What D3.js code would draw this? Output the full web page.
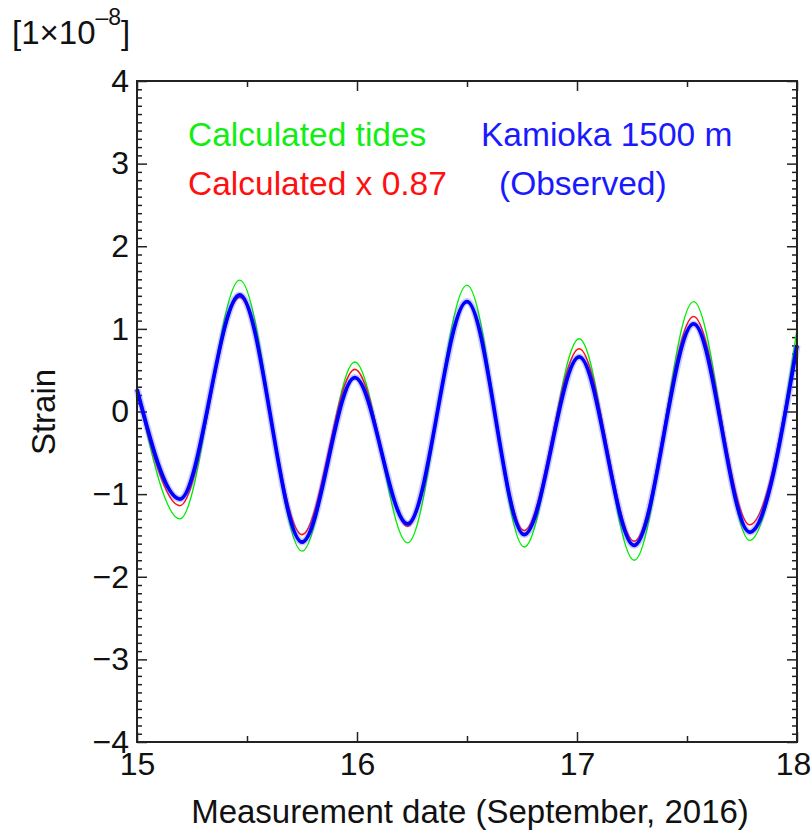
<!DOCTYPE html>
<html>
<head>
<meta charset="utf-8">
<script src="https://cdn.jsdelivr.net/npm/d3@7"></script>
<style>
  body { margin: 0; background: #fff; }
  text { font-family: "Liberation Sans", Arial, sans-serif; }
</style>
</head>
<body>
<svg id="chart" width="811" height="833"></svg>
<script>
// time of each turning point of the tide (day of September 2016)
var days  = [15.0, 15.195, 15.467, 15.75, 15.99, 16.23, 16.5, 16.76, 17.01, 17.26, 17.53, 17.785, 18.0];
// strain, units of 1e-8
var calcTides = [0.27, -1.30, 1.59, -1.69, 0.60, -1.59, 1.53, -1.64, 0.88, -1.80, 1.33, -1.56, 0.99];
var calcScaled = [0.23, -1.14, 1.38, -1.49, 0.51, -1.39, 1.33, -1.44, 0.76, -1.57, 1.15, -1.37, 0.85];
var observed = [0.27, -1.06, 1.41, -1.58, 0.41, -1.36, 1.33, -1.49, 0.66, -1.62, 1.06, -1.46, 0.80];

var xTicks = [15, 15.5, 16, 16.5, 17, 17.5, 18];
var yTicks = [-4, -3, -2, -1, 0, 1, 2, 3, 4];

var svg = d3.select("#chart"),
    margin = {top: 81, right: 14, bottom: 91, left: 137},
    width = 811 - margin.left - margin.right,
    height = 833 - margin.top - margin.bottom;

var x = d3.scaleLinear().domain([15, 18]).range([0, width]);
var y = d3.scaleLinear().domain([-4, 4]).range([height, 0]);

var g = svg.append("g").attr("transform", "translate(" + margin.left + "," + margin.top + ")");

var minorY = d3.range(-40, 41).map(function(i){ return i / 10; }).filter(function(v){ return Math.abs(v - Math.round(v)) > 1e-6; });
var halfX = xTicks.filter(function(v){ return v % 1 !== 0; });
var intX = xTicks.filter(function(v){ return v % 1 === 0; });

var tickColor = "#222";
function styleAxis(sel){
  sel.select(".domain").remove();
  sel.selectAll("line").attr("stroke", tickColor).attr("stroke-width", 1.5);
  sel.selectAll("text").attr("fill", "#111").style("font-size", "32px");
}

// left / right minor + major ticks (all pointing inward)
g.append("g").call(d3.axisLeft(y).tickValues(minorY).tickSize(-5).tickFormat("")).call(styleAxis);
g.append("g").call(d3.axisLeft(y).tickValues(yTicks).tickSize(-10).tickPadding(8)).call(styleAxis);
g.append("g").attr("transform", "translate(" + width + ",0)")
  .call(d3.axisRight(y).tickValues(minorY).tickSize(-5).tickFormat("")).call(styleAxis);
g.append("g").attr("transform", "translate(" + width + ",0)")
  .call(d3.axisRight(y).tickValues(yTicks).tickSize(-10).tickFormat("")).call(styleAxis);

// bottom / top
g.append("g").attr("transform", "translate(0," + height + ")")
  .call(d3.axisBottom(x).tickValues(halfX).tickSize(-6).tickFormat("")).call(styleAxis);
var xBottom = g.append("g").attr("transform", "translate(0," + height + ")")
  .call(d3.axisBottom(x).tickValues(intX).tickSize(-10).tickPadding(10).tickFormat(d3.format("d"))).call(styleAxis);
// last label sits at the page edge, nudge it in
xBottom.selectAll("text").filter(function(d){ return d === 18; }).attr("dx", -4);
g.append("g")
  .call(d3.axisTop(x).tickValues(halfX).tickSize(-6).tickFormat("")).call(styleAxis);
g.append("g")
  .call(d3.axisTop(x).tickValues(intX).tickSize(-10).tickFormat("")).call(styleAxis);

// curves
var line = d3.line()
  .x(function(d){ return x(d[0]); })
  .y(function(d){ return y(d[1]); })
  .curve(d3.curveMonotoneX);

var zip = function(vals){ return days.map(function(t, i){ return [t, vals[i]]; }); };

g.append("path").datum(zip(calcTides))
  .attr("fill", "none").attr("stroke", "#00ee00").attr("stroke-width", 1.4).attr("d", line);
g.append("path").datum(zip(calcScaled))
  .attr("fill", "none").attr("stroke", "#ff1010").attr("stroke-width", 1.6).attr("d", line);
// observed: thick noisy trace, drawn as a soft halo plus a core
g.append("path").datum(zip(observed))
  .attr("fill", "none").attr("stroke", "#5050ff").attr("stroke-opacity", 0.3).attr("stroke-width", 7).attr("d", line);
g.append("path").datum(zip(observed))
  .attr("fill", "none").attr("stroke", "#0000ff").attr("stroke-width", 3.8).attr("d", line);

// frame
g.append("rect").attr("width", width).attr("height", height)
  .attr("fill", "none").attr("stroke", tickColor).attr("stroke-width", 2);

// legend text
var legend = [
  {t: "Calculated tides", c: "#11ee11", x: 188, y: 146},
  {t: "Calculated x 0.87", c: "#ff1010", x: 188, y: 195},
  {t: "Kamioka 1500 m", c: "#1a1aff", x: 481, y: 146},
  {t: "(Observed)", c: "#1a1aff", x: 499, y: 195}
];
svg.selectAll("text.leg").data(legend).enter().append("text")
  .attr("class", "leg")
  .attr("x", function(d){ return d.x; })
  .attr("y", function(d){ return d.y; })
  .attr("fill", function(d){ return d.c; })
  .style("font-size", "33.5px")
  .text(function(d){ return d.t; });

// axis titles
svg.append("text")
  .attr("x", 470).attr("y", 823)
  .attr("text-anchor", "middle").attr("fill", "#111")
  .style("font-size", "33px")
  .text("Measurement date (September, 2016)");

svg.append("text")
  .attr("transform", "translate(55,412) rotate(-90)")
  .attr("text-anchor", "middle").attr("fill", "#111")
  .style("font-size", "33px")
  .text("Strain");

var unit = svg.append("text").attr("x", 12).attr("y", 44).attr("fill", "#111").style("font-size", "33px");
unit.append("tspan").text("[1×10");
unit.append("tspan").attr("dy", -19).style("font-size", "23px").text("–8");
unit.append("tspan").attr("dy", 19).text("]");
</script>
</body>
</html>
